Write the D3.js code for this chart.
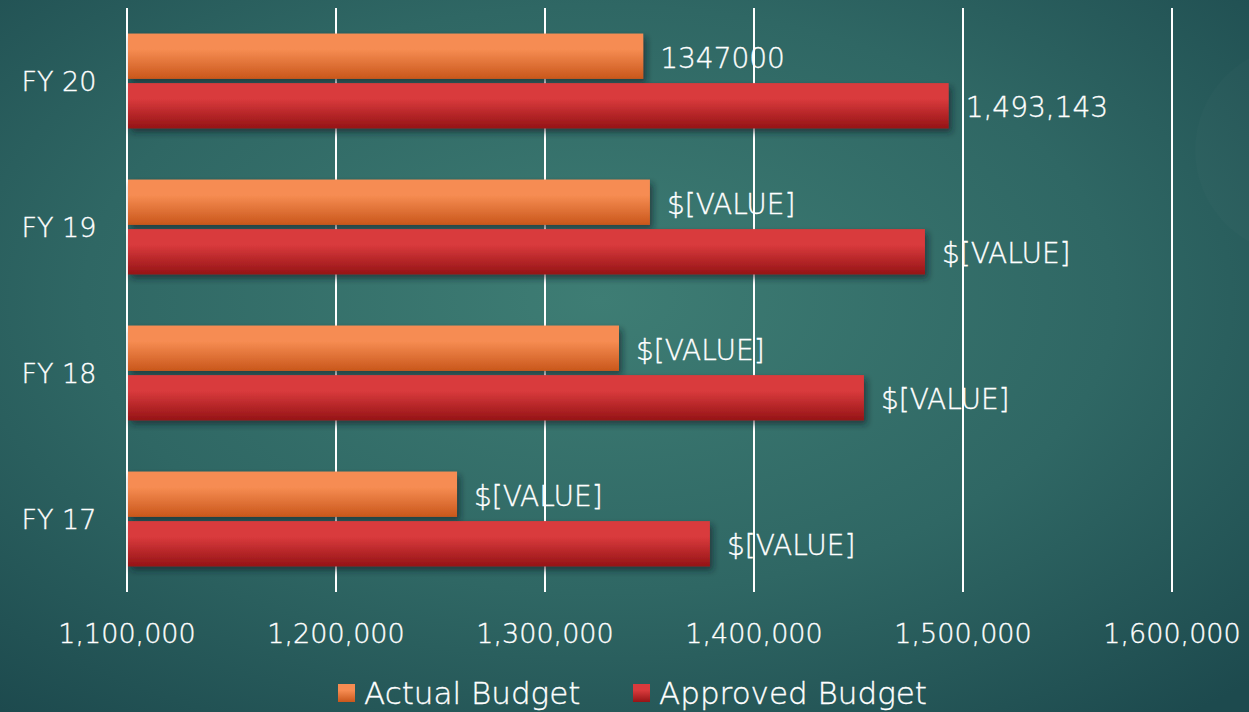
<!DOCTYPE html>
<html>
<head>
<meta charset="utf-8">
<script src="https://cdn.jsdelivr.net/npm/d3@7"></script>
<style>
  html, body { margin: 0; padding: 0; overflow: hidden; }
  svg { display: block; font-family: "DejaVu Sans", "Lato", sans-serif; font-weight: 200; }
  text { stroke: #ffffff; stroke-width: 0.35px; }
</style>
</head>
<body>
<svg id="chart" width="1249" height="712"></svg>
<script>
const years = ["FY 20", "FY 19", "FY 18", "FY 17"];
const series = ["Actual Budget", "Approved Budget"];
const actual = [1347000, 1350200, 1335400, 1257900];
const approved = [1493143, 1481800, 1452600, 1378900];
const actualLabels = ["1347000", "$[VALUE]", "$[VALUE]", "$[VALUE]"];
const approvedLabels = ["1,493,143", "$[VALUE]", "$[VALUE]", "$[VALUE]"];
const xTicks = [1100000, 1200000, 1300000, 1400000, 1500000, 1600000];

const width = 1249, height = 712;
const svg = d3.select("#chart");
const defs = svg.append("defs");

// background
const bg = defs.append("radialGradient").attr("id", "bg")
    .attr("cx", "48%").attr("cy", "42%").attr("r", "75%");
bg.append("stop").attr("offset", "0%").attr("stop-color", "#3e7d74");
bg.append("stop").attr("offset", "55%").attr("stop-color", "#2f6764");
bg.append("stop").attr("offset", "100%").attr("stop-color", "#1d4a4e");
svg.append("rect").attr("width", width).attr("height", height).attr("fill", "url(#bg)");
svg.append("circle").attr("cx", 1300).attr("cy", 150).attr("r", 105)
    .attr("fill", "#ffffff").attr("opacity", 0.015);

// bar gradients
const grads = [["gradA", "#f68c52", "#c9571b"], ["gradB", "#d93a3c", "#951416"]];
grads.forEach(([id, top, bottom]) => {
    const g = defs.append("linearGradient").attr("id", id)
        .attr("x1", 0).attr("y1", 0).attr("x2", 0).attr("y2", 1);
    g.append("stop").attr("offset", "0%").attr("stop-color", top);
    g.append("stop").attr("offset", "35%").attr("stop-color", top);
    g.append("stop").attr("offset", "100%").attr("stop-color", bottom);
});
defs.append("filter").attr("id", "shadow")
    .attr("x", "-5%").attr("y", "-20%").attr("width", "110%").attr("height", "160%")
    .append("feDropShadow").attr("dx", 3).attr("dy", 4).attr("stdDeviation", 3)
    .attr("flood-color", "#0b2426").attr("flood-opacity", 0.6);

const x = d3.scaleLinear().domain([1100000, 1600000]).range([127, 1172]);
const y = d3.scaleBand().domain(years).range([8, 592]).paddingInner(0.35).paddingOuter(0.175);
const sub = d3.scaleBand().domain(series).range([0, y.bandwidth()]).paddingInner(0.085);
const fills = {"Actual Budget": "url(#gradA)", "Approved Budget": "url(#gradB)"};

// gridlines
svg.append("g").selectAll("line").data(xTicks).join("line")
    .attr("x1", d => x(d)).attr("x2", d => x(d))
    .attr("y1", 8).attr("y2", 592)
    .attr("stroke", "#ffffff").attr("stroke-width", 2);

// x tick labels
svg.append("g").selectAll("text").data(xTicks).join("text")
    .attr("x", d => x(d)).attr("y", 633)
    .attr("text-anchor", "middle").attr("dominant-baseline", "central")
    .attr("fill", "#ffffff").attr("font-size", 27)
    .text(d => d3.format(",")(d));

// y category labels
svg.append("g").selectAll("text").data(years).join("text")
    .attr("x", 59).attr("y", d => y(d) + y.bandwidth() / 2)
    .attr("text-anchor", "middle").attr("dominant-baseline", "central")
    .attr("fill", "#ffffff").attr("font-size", 27)
    .text(d => d);

const rows = years.map((yr, i) => [
    {yr, key: series[0], value: actual[i], label: actualLabels[i]},
    {yr, key: series[1], value: approved[i], label: approvedLabels[i]}
]).flat();

svg.append("g").selectAll("rect").data(rows).join("rect")
    .attr("x", x(1100000) + 1)
    .attr("y", d => y(d.yr) + sub(d.key))
    .attr("width", d => x(d.value) - x(1100000) - 1)
    .attr("height", sub.bandwidth())
    .attr("fill", d => fills[d.key])
    .attr("filter", "url(#shadow)");

svg.append("g").selectAll("text").data(rows).join("text")
    .attr("x", d => x(d.value) + 17)
    .attr("y", d => y(d.yr) + sub(d.key) + sub.bandwidth() / 2 + 2)
    .attr("dominant-baseline", "central")
    .attr("fill", "#ffffff").attr("font-size", 28)
    .text(d => d.label);

// legend
const legend = svg.append("g").attr("transform", "translate(338,693)");
const items = legend.selectAll("g").data(series).join("g")
    .attr("transform", (d, i) => `translate(${i * 295},0)`);
items.append("rect").attr("x", 0).attr("y", -9).attr("width", 17).attr("height", 18)
    .attr("fill", d => fills[d]).attr("stroke", "none");
items.append("text").attr("x", 26).attr("y", 0)
    .attr("dominant-baseline", "central")
    .attr("fill", "#ffffff").attr("font-size", 31)
    .text(d => d);
</script>
</body>
</html>
